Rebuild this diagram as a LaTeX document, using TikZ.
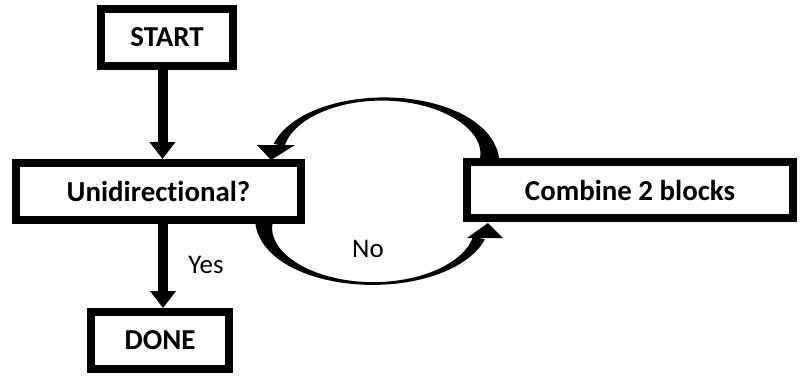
\documentclass[tikz,border=0pt]{standalone}
\usepackage{fontspec}
\setmainfont[Ligatures=NoCommon]{Carlito}
\usetikzlibrary{arrows.meta}
\begin{document}
\begin{tikzpicture}[x=1bp,y=-1bp,
  box/.style={draw=black, line width=8bp, fill=white, inner sep=0pt,
    font=\bfseries\fontsize{29}{34}\selectfont},
  flow/.style={line width=10bp, -{Triangle[width=25bp,length=17bp]}},
  lbl/.style={font=\fontsize{27}{32}\selectfont, inner sep=0pt},
  declare function={
    wa(\t)=0.001673*\t*\t-0.3273*\t+19;
    wb(\t)=0.001692*\t*\t-0.3109*\t+17;}]
\useasboundingbox (0,0) rectangle (801,375);

% tapered loop arrows between the decision and the combine step
\fill plot[domain=0:167.3,samples=90]
    ({383+(106.5+wa(\x)/2)*cos(\x)},{158-(59+wa(\x)/2)*sin(\x)})
  -- plot[domain=167.3:0,samples=90]
    ({383+(106.5-wa(\x)/2)*cos(\x)},{158-(59-wa(\x)/2)*sin(\x)}) -- cycle;
\fill plot[domain=0:166.4,samples=90]
    ({373-(109+wb(\x)/2)*cos(\x)},{224+(59.5+wb(\x)/2)*sin(\x)})
  -- plot[domain=166.4:0,samples=90]
    ({373-(109-wb(\x)/2)*cos(\x)},{224+(59.5-wb(\x)/2)*sin(\x)}) -- cycle;
\fill (257,145) -- (295,145) -- (271,160) -- cycle;
\fill (467,238) -- (503,238) -- (488,223) -- cycle;

% process boxes
\node[box, minimum width=132bp, minimum height=57bp] (start) at (167,37.5) {START};
\node[box, minimum width=285bp, minimum height=57bp] (unid) at (158.5,191.5) {Unidirectional?};
\node[box, minimum width=326bp, minimum height=56bp] (comb) at (630,190) {Combine 2 blocks};
\node[box, minimum width=138bp, minimum height=57bp] (done) at (160,340.5) {DONE};

% straight connectors
\coordinate (ax1) at (162.5,0);
\coordinate (ax2) at (163,0);
\draw[flow] (start.south -| ax1) -- (unid.north -| ax1);
\draw[flow] (unid.south -| ax2) -- (done.north -| ax2);

% labels
\node[lbl] (yes) at (206,265) {Yes};
\node[lbl] (no) at (368,248.5) {No};
\end{tikzpicture}
\end{document}
